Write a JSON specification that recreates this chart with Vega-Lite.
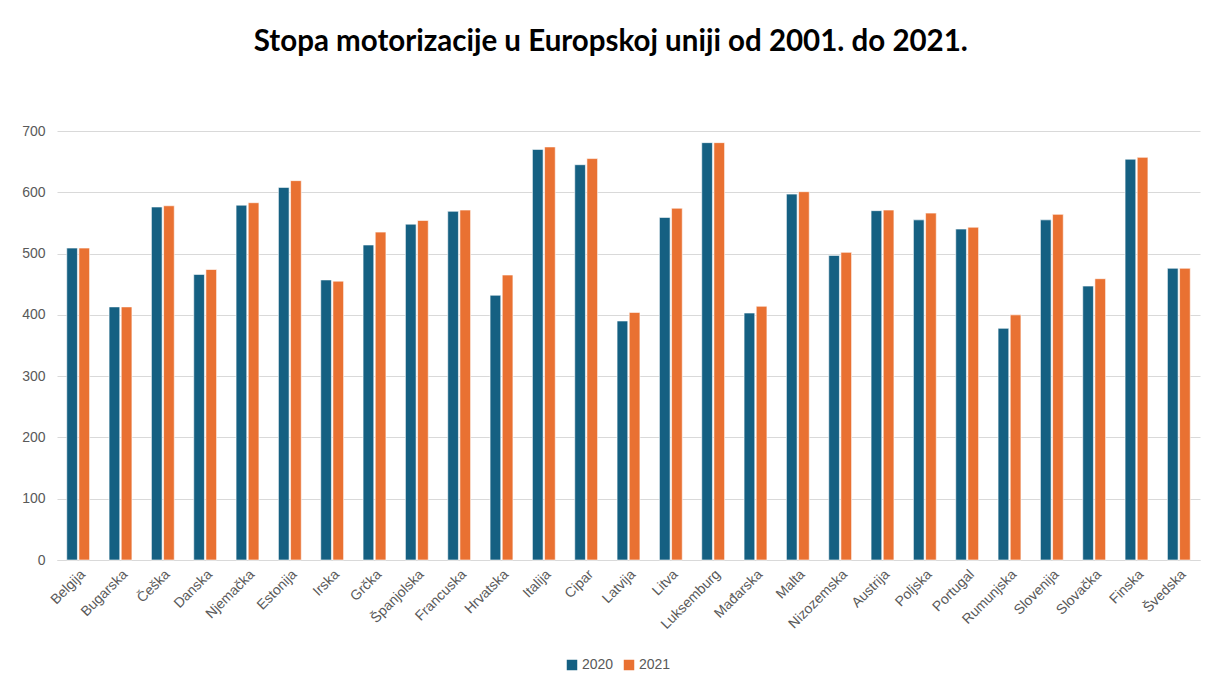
{
  "$schema": "https://vega.github.io/schema/vega-lite/v6.json",
  "autosize": {"type": "none"},
  "width": 1143,
  "height": 429,
  "padding": {"left": 57, "top": 131, "right": 14, "bottom": 128},
  "background": "white",
  "title": {
    "text": "Stopa motorizacije u Europskoj uniji od 2001. do 2021.",
    "font": "Lato",
    "fontSize": 29.5,
    "fontWeight": "bold",
    "color": "#000000",
    "anchor": "middle",
    "frame": "bounds",
    "offset": 67
  },
  "data": {
    "values": [
      {"country": "Belgija", "year": "2020", "value": 509},
      {"country": "Belgija", "year": "2021", "value": 509},
      {"country": "Bugarska", "year": "2020", "value": 413},
      {"country": "Bugarska", "year": "2021", "value": 413},
      {"country": "Češka", "year": "2020", "value": 576},
      {"country": "Češka", "year": "2021", "value": 578},
      {"country": "Danska", "year": "2020", "value": 466},
      {"country": "Danska", "year": "2021", "value": 474},
      {"country": "Njemačka", "year": "2020", "value": 579},
      {"country": "Njemačka", "year": "2021", "value": 583},
      {"country": "Estonija", "year": "2020", "value": 608},
      {"country": "Estonija", "year": "2021", "value": 619},
      {"country": "Irska", "year": "2020", "value": 457},
      {"country": "Irska", "year": "2021", "value": 455},
      {"country": "Grčka", "year": "2020", "value": 514},
      {"country": "Grčka", "year": "2021", "value": 535},
      {"country": "Španjolska", "year": "2020", "value": 548},
      {"country": "Španjolska", "year": "2021", "value": 554},
      {"country": "Francuska", "year": "2020", "value": 569},
      {"country": "Francuska", "year": "2021", "value": 571},
      {"country": "Hrvatska", "year": "2020", "value": 432},
      {"country": "Hrvatska", "year": "2021", "value": 465},
      {"country": "Italija", "year": "2020", "value": 670},
      {"country": "Italija", "year": "2021", "value": 674},
      {"country": "Cipar", "year": "2020", "value": 645},
      {"country": "Cipar", "year": "2021", "value": 655},
      {"country": "Latvija", "year": "2020", "value": 390},
      {"country": "Latvija", "year": "2021", "value": 404},
      {"country": "Litva", "year": "2020", "value": 559},
      {"country": "Litva", "year": "2021", "value": 574},
      {"country": "Luksemburg", "year": "2020", "value": 681},
      {"country": "Luksemburg", "year": "2021", "value": 681},
      {"country": "Mađarska", "year": "2020", "value": 403},
      {"country": "Mađarska", "year": "2021", "value": 414},
      {"country": "Malta", "year": "2020", "value": 597},
      {"country": "Malta", "year": "2021", "value": 601},
      {"country": "Nizozemska", "year": "2020", "value": 497},
      {"country": "Nizozemska", "year": "2021", "value": 502},
      {"country": "Austrija", "year": "2020", "value": 570},
      {"country": "Austrija", "year": "2021", "value": 571},
      {"country": "Poljska", "year": "2020", "value": 555},
      {"country": "Poljska", "year": "2021", "value": 566},
      {"country": "Portugal", "year": "2020", "value": 540},
      {"country": "Portugal", "year": "2021", "value": 543},
      {"country": "Rumunjska", "year": "2020", "value": 378},
      {"country": "Rumunjska", "year": "2021", "value": 400},
      {"country": "Slovenija", "year": "2020", "value": 555},
      {"country": "Slovenija", "year": "2021", "value": 564},
      {"country": "Slovačka", "year": "2020", "value": 447},
      {"country": "Slovačka", "year": "2021", "value": 459},
      {"country": "Finska", "year": "2020", "value": 654},
      {"country": "Finska", "year": "2021", "value": 657},
      {"country": "Švedska", "year": "2020", "value": 476},
      {"country": "Švedska", "year": "2021", "value": 476}
    ]
  },
  "mark": {"type": "bar", "stroke": "white", "strokeWidth": 0.6},
  "encoding": {
    "x": {
      "field": "country",
      "type": "nominal",
      "sort": null,
      "title": null,
      "scale": {"paddingInner": 0.46, "paddingOuter": 0.23},
      "axis": {
        "labelAngle": -45,
        "labelFont": "Liberation Sans",
        "labelFontSize": 14,
        "labelColor": "#595959",
        "ticks": false,
        "domainColor": "#d9d9d9",
        "domainWidth": 1,
        "labelPadding": 7,
        "grid": false
      }
    },
    "xOffset": {"field": "year", "type": "nominal", "scale": {"paddingInner": 0.12}},
    "y": {
      "field": "value",
      "type": "quantitative",
      "title": null,
      "scale": {"domain": [0, 700]},
      "axis": {
        "values": [0, 100, 200, 300, 400, 500, 600, 700],
        "labelFont": "Liberation Sans",
        "labelFontSize": 14,
        "labelColor": "#595959",
        "ticks": false,
        "domain": false,
        "gridColor": "#d9d9d9",
        "gridWidth": 1,
        "labelPadding": 12
      }
    },
    "color": {
      "field": "year",
      "type": "nominal",
      "title": null,
      "scale": {"domain": ["2020", "2021"], "range": ["#156082", "#E97132"]},
      "legend": {
        "orient": "none",
        "legendX": 508,
        "legendY": 527,
        "direction": "horizontal",
        "symbolType": "square",
        "symbolSize": 110,
        "symbolStrokeWidth": 0,
        "labelFont": "Liberation Sans",
        "labelFontSize": 14,
        "labelColor": "#595959",
        "columnPadding": 8,
        "labelOffset": 3
      }
    }
  },
  "config": {
    "view": {"stroke": null}
  }
}
